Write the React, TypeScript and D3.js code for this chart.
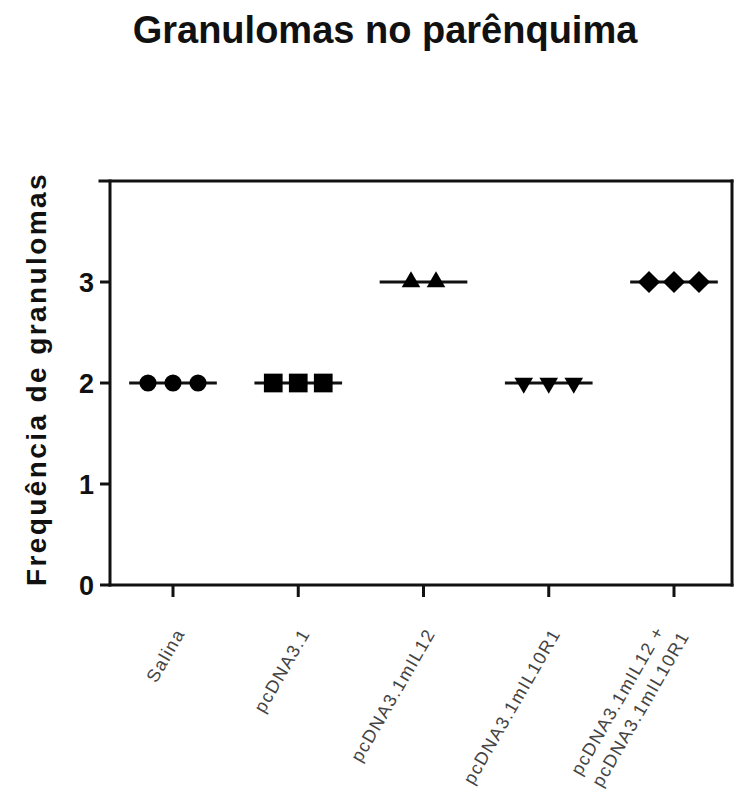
import React from "react";
import * as d3 from "d3";

const title = "Granulomas no parênquima";
const yLabel = "Frequência de granulomas";
const categories = ["Salina", "pcDNA3.1", "pcDNA3.1mIL12", "pcDNA3.1mIL10R1", "combo"];
const categoryLabels: string[][] = [
  ["Salina"],
  ["pcDNA3.1"],
  ["pcDNA3.1mIL12"],
  ["pcDNA3.1mIL10R1"],
  ["pcDNA3.1mIL12 +", "pcDNA3.1mIL10R1"],
];
const salinaValues = [2, 2, 2];
const pcdnaValues = [2, 2, 2];
const il12Values = [3, 3];
const il10r1Values = [2, 2, 2];
const comboValues = [3, 3, 3];
const groupValues = [salinaValues, pcdnaValues, il12Values, il10r1Values, comboValues];
const symbolTypes = ["circle", "square", "triangle", "triangleDown", "diamond"];
const yTicks = [0, 1, 2, 3];
const yMax = 4;

const FONT = "'Liberation Sans', Arial, Helvetica, sans-serif";

function symbolPath(kind: string): { d: string; rotate: number } {
  switch (kind) {
    case "circle":
      return { d: d3.symbol(d3.symbolCircle, 230)()!, rotate: 0 };
    case "square":
      return { d: d3.symbol(d3.symbolSquare, 350)()!, rotate: 0 };
    case "triangle":
      return { d: d3.symbol(d3.symbolTriangle, 150)()!, rotate: 0 };
    case "triangleDown":
      return { d: d3.symbol(d3.symbolTriangle, 150)()!, rotate: 180 };
    default:
      return { d: d3.symbol(d3.symbolSquare, 245)()!, rotate: 45 };
  }
}

export default function App() {
  const W = 736;
  const H = 796;
  const x = d3.scalePoint<string>().domain(categories).range([173, 674]);
  const y = d3.scaleLinear().domain([0, yMax]).range([585, 181]);
  const axisLeft = 110;
  const axisRight = 732;
  const step = x.step();
  const spread = 25;
  const medHalf = 0.35 * step;

  return (
    <svg
      width={W}
      height={H}
      style={{ position: "absolute", left: 0, top: 0, background: "#fff" }}
      fontFamily={FONT}
    >
      <rect width={W} height={H} fill="#fff" />
      <text x={385} y={43} textAnchor="middle" fontSize={38} fontWeight="bold" fill="#111">
        {title}
      </text>

      {/* y label */}
      <text
        transform={`translate(46, ${379}) rotate(-90)`}
        textAnchor="middle"
        fontSize={28}
        fontWeight="bold"
        letterSpacing={2.4}
        fill="#111"
      >
        {yLabel}
      </text>

      {/* frame/axes */}
      <g stroke="#111" strokeWidth={3} fill="none" strokeLinecap="square">
        <line x1={axisLeft} y1={y(0)} x2={axisLeft} y2={y(yMax)} />
        <line x1={axisLeft} y1={y(0)} x2={axisRight} y2={y(0)} />
        <line x1={axisLeft - 10} y1={y(yMax)} x2={axisRight} y2={y(yMax)} />
        <line x1={axisRight} y1={y(yMax)} x2={axisRight} y2={y(0)} />
        {yTicks.map((t) => (
          <line key={t} x1={axisLeft - 10} x2={axisLeft} y1={y(t)} y2={y(t)} strokeLinecap="butt" />
        ))}
        {categories.map((c) => (
          <line key={c} x1={x(c)!} x2={x(c)!} y1={y(0)} y2={y(0) + 12} strokeLinecap="butt" />
        ))}
      </g>

      {yTicks.map((t) => (
        <text
          key={t}
          x={94}
          y={y(t)}
          dy="0.36em"
          textAnchor="end"
          fontSize={27}
          fontWeight="bold"
          fill="#111"
        >
          {t}
        </text>
      ))}

      {/* x labels */}
      {categories.map((c, i) => {
        const lines = categoryLabels[i];
        const cx = x(c)!;
        if (lines.length === 1) {
          return (
            <text
              key={c}
              transform={`translate(${cx + 7}, 630) rotate(-60)`}
              textAnchor="end"
              fontSize={18}
              letterSpacing={1.4}
              fill="#444"
              dy="0.35em"
            >
              {lines[0]}
            </text>
          );
        }
        return (
          <g key={c} transform={`translate(${cx - 2}, 630) rotate(-60)`}>
            {lines.map((ln, j) => (
              <text
                key={j}
                x={j === 0 ? -4 : 4}
                y={j === 0 ? -12 : 12}
                dy="0.35em"
                textAnchor="end"
                fontSize={18}
                letterSpacing={1.4}
                fill="#444"
              >
                {ln}
              </text>
            ))}
          </g>
        );
      })}

      {/* data */}
      {categories.map((c, i) => {
        const vals = groupValues[i];
        const cx = x(c)!;
        const med = d3.median(vals)!;
        const sym = symbolPath(symbolTypes[i]);
        return (
          <g key={c}>
            <line
              x1={cx - medHalf}
              x2={cx + medHalf}
              y1={y(med)}
              y2={y(med)}
              stroke="#111"
              strokeWidth={3}
            />
            {vals.map((v, j) => {
              const px = cx + (j - (vals.length - 1) / 2) * spread;
              return (
                <path
                  key={j}
                  d={sym.d}
                  transform={`translate(${px}, ${y(v)}) rotate(${sym.rotate})`}
                  fill="#000"
                />
              );
            })}
          </g>
        );
      })}
    </svg>
  );
}
